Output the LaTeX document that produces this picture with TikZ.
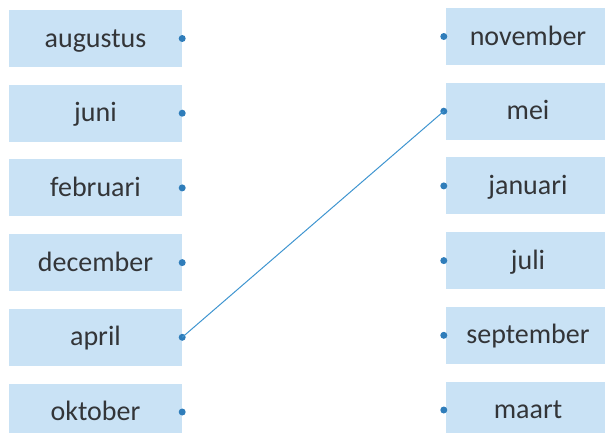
\documentclass[tikz,border=0pt]{standalone}
\usepackage{fontspec}
\setmainfont{Carlito}
\usetikzlibrary{positioning}
\definecolor{boxblue}{HTML}{C9E2F5}
\definecolor{dotblue}{HTML}{2F7DBA}
\definecolor{lineblue}{HTML}{3F95D0}
\definecolor{textgray}{HTML}{333538}

\begin{document}
\begin{tikzpicture}[x=1pt,y=1pt]
\clip (0,0) rectangle (605,-432);
\tikzstyle{month}=[fill=boxblue, text=textgray, inner sep=0pt, minimum height=57pt, minimum width=173pt, text height=20pt, text depth=3pt, node distance=17.3pt, font=\fontsize{28}{30}\selectfont]
\tikzstyle{monthR}=[month, minimum width=164pt]
\tikzstyle{dot}=[circle, fill=dotblue, inner sep=0pt, minimum size=7pt]
% left column
\node[month](aug) at (95.5,-38.5) {augustus};
\node[month](jun) [below = of aug] {juni};
\node[month](feb) [below = of jun] {februari};
\node[month](dec) [below = of feb] {december};
\node[month](apr) [below = of dec] {april};
\node[month](okt) [below = of apr] {oktober};
% right column
\node[monthR](nov) at (528,-36.5) {november};
\node[monthR](mei) [below = of nov] {mei};
\node[monthR](jan) [below = of mei] {januari};
\node[monthR](jul) [below = of jan] {juli};
\node[monthR](sep) [below = of jul] {september};
\node[monthR](maa) [below = of sep] {maart};
% dots
\node[dot](augD) at (aug.east) {};
\node[dot](junD) at (jun.east) {};
\node[dot](febD) at (feb.east) {};
\node[dot](decD) at (dec.east) {};
\node[dot](aprD) at (apr.east) {};
\node[dot](oktD) at (okt.east) {};
\node[dot](novD) at ([xshift=-2pt]nov.west) {};
\node[dot](meiD) at ([xshift=-2pt]mei.west) {};
\node[dot](janD) at ([xshift=-2pt]jan.west) {};
\node[dot](julD) at ([xshift=-2pt]jul.west) {};
\node[dot](sepD) at ([xshift=-2pt]sep.west) {};
\node[dot](maaD) at ([xshift=-2pt]maa.west) {};
\draw[lineblue, line width=1pt] (aprD.center) -- (meiD.center);
\end{tikzpicture}
\end{document}
